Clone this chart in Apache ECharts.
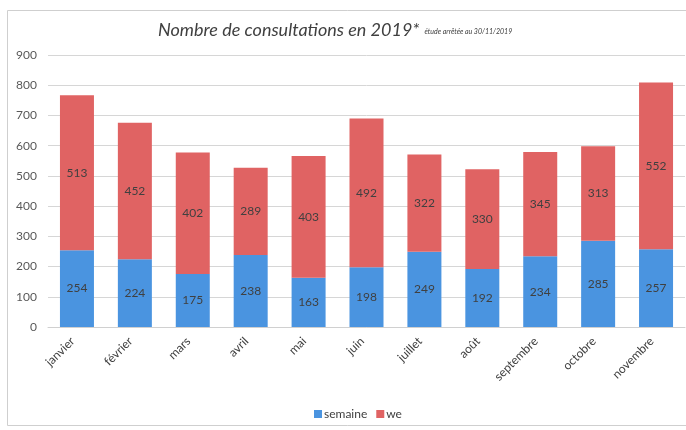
<!DOCTYPE html>
<html>
<head>
<meta charset="utf-8">
<script src="https://cdn.jsdelivr.net/npm/echarts@6/dist/echarts.min.js"></script>
<style>
  html, body { margin: 0; padding: 0; background: #ffffff; }
  #chart { width: 686px; height: 430px; }
</style>
</head>
<body>
<div id="chart"></div>
<script>
// Monthly consultations in 2019, split between weekdays and weekends
const months = ['janvier', 'février', 'mars', 'avril', 'mai', 'juin', 'juillet', 'août', 'septembre', 'octobre', 'novembre'];
const semaine = [254, 224, 175, 238, 163, 198, 249, 192, 234, 285, 257];
const we = [513, 452, 402, 289, 403, 492, 322, 330, 345, 313, 552];
const yTicks = { min: 0, max: 900, interval: 100 };

const FONT = 'Lato, "Open Sans", sans-serif';
const chart = echarts.init(document.getElementById('chart'));

const labelStyle = {
  show: true,
  position: 'inside',
  color: '#404040',
  fontSize: 12,
  fontFamily: FONT
};

chart.setOption({
  animation: false,
  backgroundColor: '#ffffff',
  graphic: [{
    type: 'rect',
    left: 5, top: 8,
    shape: { width: 700, height: 415 },
    style: { fill: 'none', stroke: '#cfcfcf', lineWidth: 1 },
    z: -1
  }],
  title: {
    left: 153,
    top: 16,
    text: '{a|Nombre de consultations en 2019*} {b|étude arrêtée au 30/11/2019}',
    textStyle: {
      fontWeight: 'normal',
      rich: {
        a: { fontSize: 18, fontStyle: 'italic', fontWeight: 'normal', color: '#404040', fontFamily: FONT },
        b: { fontSize: 7, fontStyle: 'italic', fontWeight: 'normal', color: '#404040', fontFamily: FONT, padding: [4, 0, 0, 0] }
      }
    }
  },
  legend: {
    left: 309,
    top: 403,
    itemWidth: 8,
    itemHeight: 8,
    itemGap: 9,
    icon: 'rect',
    textStyle: { color: '#404040', fontSize: 12, fontFamily: FONT, padding: [0, 0, 0, -3] },
    data: ['semaine', 'we']
  },
  grid: { left: 48, right: 1, top: 55, bottom: 103 },
  xAxis: {
    type: 'category',
    data: months,
    axisTick: { show: false },
    axisLine: { lineStyle: { color: '#d0d0d0' } },
    axisLabel: { rotate: 45, color: '#404040', fontSize: 12, fontFamily: FONT, margin: 8, interval: 0, padding: [0, 6, 0, 0] }
  },
  yAxis: {
    type: 'value',
    min: yTicks.min,
    max: yTicks.max,
    interval: yTicks.interval,
    axisLine: { show: false },
    axisTick: { show: false },
    axisLabel: { color: '#595959', fontSize: 12, fontFamily: FONT, margin: 11 },
    splitLine: { lineStyle: { color: '#d6d6d6' } }
  },
  series: [
    {
      name: 'semaine',
      type: 'bar',
      stack: 'total',
      data: semaine,
      barWidth: 34,
      itemStyle: { color: '#4a94e0' },
      label: labelStyle
    },
    {
      name: 'we',
      type: 'bar',
      stack: 'total',
      data: we,
      barWidth: 34,
      itemStyle: { color: '#e06363' },
      label: labelStyle
    }
  ]
});
</script>
</body>
</html>
